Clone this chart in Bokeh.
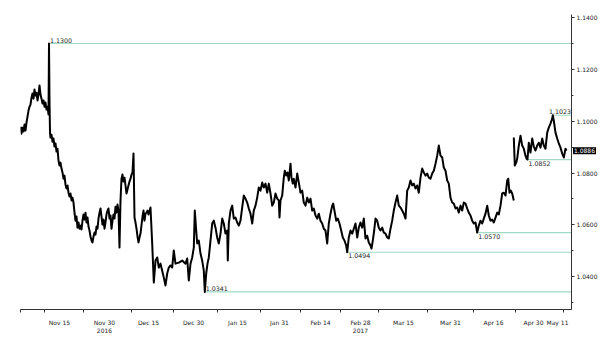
from bokeh.plotting import figure
from bokeh.models import Range1d, LinearAxis, FixedTicker, Label
from bokeh.core.properties import value
from bokeh.embed import file_html
from bokeh.resources import INLINE

# x = bar index (4 bars per trading day, Nov 15 2016 = 0)
bars_a = [-39, -38, -37, -36, -35, -34, -33, -32, -31, -30, -29, -28, -27, -26, -25, -24, -23, -22, -21, -20,
          -19, -18, -17, -16, -15, -14, -13, -12, -11, -10.5, -10, -9.5, -9, -8, -7, -6, -5, -4, -3, -2, -1,
          0, 1, 2, 3, 4, 5, 6, 7, 8, 9, 10, 11, 12, 13, 14, 15, 16, 17, 18, 19, 20, 21, 22, 23, 24, 25, 26,
          27, 28, 29, 30, 31, 32, 33, 34, 35, 36, 37, 38, 39, 40, 41, 42, 43, 44, 45, 46, 47, 48, 49, 50,
          51, 52, 53, 54, 55, 56, 57, 58, 59, 60, 61, 62, 63, 64, 65, 66, 67, 68, 69, 70, 71, 72, 73, 74,
          75, 76, 77, 78, 79, 80, 81, 83, 84, 85, 86, 87, 88, 89, 91, 92.7, 94.3, 96, 97.7, 99.3, 101,
          102.7, 104.3, 106, 107.7, 109.3, 111, 112.7, 114.3, 116, 119.3, 122.7, 126, 127.7, 129.3, 131,
          132.7, 134.3, 135.3, 136.7, 137.7, 139.3, 141, 142.7, 144.3, 145.3, 146.7, 148, 149.3, 151,
          152.7, 154.3, 156, 157.7, 159.3, 161, 162.7, 164.3, 166, 167.7, 168.3, 169.3, 171, 172.7, 174.3,
          176, 177.7, 179.3, 181, 182.7, 184.3, 186, 187.7, 189.3, 191, 192.7, 194.3, 196, 197.7, 199.3,
          201, 202.7, 204.3, 206, 207.7, 209.3, 211, 212.7, 214.3, 216, 217.7, 219.3, 220, 221, 222.7,
          224.3, 225.3, 226.7, 228, 229.3, 231, 232, 233.3, 234.3, 236, 237.7, 239.3, 241, 242.7, 244.3,
          246, 247.7, 249.3, 251, 252.7, 254.3, 256, 257.7, 259.3, 261, 262.7, 264.3, 266, 267.7, 269.3,
          271, 272.7, 273.7, 275.3, 276.7, 278.3, 280, 281.7, 283.3, 285, 286.7, 287.7, 289.3, 291, 292.7,
          294.3, 296, 297.7, 299.3, 301, 302.7, 304.3, 306, 307.7, 309.3, 311, 312, 313.3, 314.7, 316,
          317.7, 319.3, 321, 322.7, 324.3, 326, 327.7, 329.3, 331, 332.7, 334.3, 336, 337.7, 339.3, 341,
          342.7, 344.3, 346, 347.7, 349.3, 351, 352.7, 354.3, 356, 357.7, 359.3, 361, 362.7, 364.3, 366,
          367.7, 369.3, 371, 372.7, 374.3, 376, 377.7, 379.3, 381, 382.7, 384.3, 386, 387.7, 389.3, 391,
          392.7, 394.3, 396, 397.7, 399.3, 401, 402.7, 404.3, 406, 407.7, 409.3, 411, 412.7, 414.3, 416,
          417.7, 419.3, 421, 422.7, 424.3, 426, 427.7, 429.3, 431, 432.7, 434.3, 436, 437.7, 439.3, 441,
          442.7, 444.3, 446, 447.7, 448.7, 450, 451.3, 452.7, 454.3]
close_a = [1.0979, 1.0952, 1.0975, 1.0960, 1.0987, 1.0964, 1.0995, 1.1018, 1.1041, 1.1056, 1.1064, 1.1091,
           1.1107, 1.1087, 1.1122, 1.1099, 1.1110, 1.1080, 1.1103, 1.1138, 1.1103, 1.1087, 1.1068, 1.1080,
           1.1056, 1.1072, 1.1045, 1.1056, 1.1026, 1.1300, 1.1080, 1.0956, 1.0937, 1.0948, 1.0921, 1.0933,
           1.0902, 1.0914, 1.0883, 1.0894, 1.0848, 1.0829, 1.0840, 1.0817, 1.0802, 1.0778, 1.0790, 1.0755,
           1.0740, 1.0752, 1.0724, 1.0709, 1.0721, 1.0694, 1.0705, 1.0686, 1.0647, 1.0616, 1.0632, 1.0589,
           1.0609, 1.0585, 1.0597, 1.0582, 1.0616, 1.0640, 1.0620, 1.0647, 1.0609, 1.0628, 1.0593, 1.0578,
           1.0555, 1.0539, 1.0532, 1.0555, 1.0570, 1.0562, 1.0593, 1.0585, 1.0624, 1.0647, 1.0663, 1.0632,
           1.0601, 1.0620, 1.0585, 1.0609, 1.0640, 1.0655, 1.0663, 1.0624, 1.0636, 1.0585, 1.0616, 1.0640,
           1.0624, 1.0670, 1.0647, 1.0678, 1.0655, 1.0512, 1.0694, 1.0778, 1.0794, 1.0767, 1.0782, 1.0752,
           1.0721, 1.0736, 1.0752, 1.0767, 1.0778, 1.0794, 1.0802, 1.0875, 1.0628, 1.0609, 1.0585, 1.0555,
           1.0532, 1.0551, 1.0566, 1.0632, 1.0655, 1.0616, 1.0643, 1.0647, 1.0655, 1.0640, 1.0667, 1.0528,
           1.0377, 1.0462, 1.0474, 1.0435, 1.0450, 1.0423, 1.0396, 1.0366, 1.0412, 1.0435, 1.0443, 1.0435,
           1.0501, 1.0450, 1.0454, 1.0462, 1.0450, 1.0470, 1.0385, 1.0450, 1.0474, 1.0512, 1.0655, 1.0578,
           1.0528, 1.0539, 1.0489, 1.0462, 1.0423, 1.0341, 1.0412, 1.0450, 1.0474, 1.0539, 1.0605, 1.0616,
           1.0589, 1.0551, 1.0528, 1.0566, 1.0624, 1.0605, 1.0566, 1.0578, 1.0462, 1.0605, 1.0655, 1.0674,
           1.0624, 1.0628, 1.0609, 1.0597, 1.0616, 1.0667, 1.0713, 1.0701, 1.0686, 1.0663, 1.0643, 1.0605,
           1.0655, 1.0674, 1.0705, 1.0744, 1.0732, 1.0763, 1.0744, 1.0759, 1.0724, 1.0759, 1.0721, 1.0674,
           1.0686, 1.0721, 1.0701, 1.0694, 1.0628, 1.0694, 1.0713, 1.0782, 1.0809, 1.0790, 1.0802, 1.0771,
           1.0836, 1.0782, 1.0759, 1.0778, 1.0744, 1.0798, 1.0763, 1.0724, 1.0732, 1.0686, 1.0674, 1.0705,
           1.0686, 1.0701, 1.0655, 1.0663, 1.0636, 1.0624, 1.0643, 1.0616, 1.0605, 1.0585, 1.0578, 1.0528,
           1.0605, 1.0643, 1.0674, 1.0682, 1.0647, 1.0616, 1.0624, 1.0605, 1.0578, 1.0551, 1.0539, 1.0520,
           1.0494, 1.0551, 1.0578, 1.0566, 1.0585, 1.0605, 1.0551, 1.0589, 1.0609, 1.0589, 1.0624, 1.0547,
           1.0558, 1.0532, 1.0520, 1.0508, 1.0539, 1.0578, 1.0624, 1.0616, 1.0589, 1.0578, 1.0589, 1.0570,
           1.0566, 1.0551, 1.0547, 1.0585, 1.0616, 1.0655, 1.0686, 1.0713, 1.0674, 1.0667, 1.0655, 1.0643,
           1.0624, 1.0732, 1.0744, 1.0771, 1.0752, 1.0759, 1.0740, 1.0752, 1.0724, 1.0782, 1.0817, 1.0802,
           1.0790, 1.0798, 1.0782, 1.0778, 1.0798, 1.0809, 1.0836, 1.0867, 1.0906, 1.0867, 1.0860, 1.0821,
           1.0809, 1.0771, 1.0759, 1.0705, 1.0686, 1.0682, 1.0663, 1.0667, 1.0647, 1.0674, 1.0655, 1.0686,
           1.0682, 1.0663, 1.0647, 1.0636, 1.0616, 1.0605, 1.0609, 1.0570, 1.0597, 1.0616, 1.0605, 1.0624,
           1.0643, 1.0674, 1.0636, 1.0616, 1.0620, 1.0609, 1.0628, 1.0647, 1.0640, 1.0674, 1.0721, 1.0724,
           1.0713, 1.0771, 1.0778, 1.0724, 1.0732, 1.0721, 1.0694]

bars_b = [454.3, 455.3, 456.7, 457.7, 459.3, 461, 462.7, 464.3, 466, 467, 468, 469.3, 471, 472.7, 474.3,
          476, 477.7, 479.3, 481, 482.7, 484.3, 486, 487.7, 489.3, 491, 492.7, 493.3, 494.3, 496, 497.7,
          499.3, 501, 502.7, 504.3, 506, 507]
close_b = [1.0937, 1.0829, 1.0840, 1.0856, 1.0906, 1.0944, 1.0906, 1.0894, 1.0867, 1.0856, 1.0852, 1.0917,
           1.0879, 1.0933, 1.0902, 1.0887, 1.0906, 1.0917, 1.0898, 1.0933, 1.0906, 1.0894, 1.0956, 1.0975,
           1.0991, 1.1010, 1.1023, 1.1002, 1.0956, 1.0933, 1.0914, 1.0898, 1.0875, 1.0860, 1.0894, 1.0886]

level_values = [1.1300, 1.1023, 1.0852, 1.0570, 1.0494, 1.0341]
level_starts = [-10.5, 493.3, 468, 417.7, 287.7, 145.3]
level_text = ["1.1300", "1.1023", "1.0852", "1.0570", "1.0494", "1.0341"]
level_above = [True, True, False, False, False, True]

last_price = 1.0886
last_text = "1.0886"

x_tick_pos = [0, 45, 89, 134, 178, 220, 261, 301, 344, 391, 434, 474, 498]
x_tick_text = ["Nov 15", "Nov 30\n2016", "Dec 15", "Dec 30", "Jan 15", "Jan 31", "Feb 14", "Feb 28\n2017",
               "Mar 15", "Mar 31", "Apr 16", "Apr 30", "May 11"]
x_minor_pos = [-39, -15, 24, 72, 114, 158, 201, 241, 281, 319, 368, 414, 456, 504]

y_ticks = [1.04, 1.06, 1.08, 1.10, 1.12, 1.14]
y_minor = [1.03, 1.05, 1.07, 1.09, 1.11, 1.13]

X_START, X_END = -39, 512
FONT = "DejaVu Sans"
INK = "#222222"

p = figure(width=600, height=341, output_backend="svg", toolbar_location=None,
           x_range=Range1d(X_START, X_END), y_range=Range1d(1.0273, 1.1412),
           min_border_left=20, min_border_right=29, min_border_top=14, min_border_bottom=32,
           y_axis_location=None, x_axis_location=None)
p.outline_line_color = None
p.xgrid.visible = False
p.ygrid.visible = False
p.background_fill_color = "white"
p.border_fill_color = "white"

# reference levels
for v, s, t, above in zip(level_values, level_starts, level_text, level_above):
    p.segment(x0=[s], y0=[v], x1=[X_END], y1=[v], line_color="#9fd9c2", line_width=1.2)
    near_end = s > X_END - 25
    p.text(x=[X_END - 0.5 if near_end else s], y=[v], text=[t], text_font=value(FONT),
           text_font_size="6.3px", text_color=INK, x_offset=0 if near_end else 1,
           text_align="right" if near_end else "left",
           y_offset=-1 if above else 1,
           text_baseline="bottom" if above else "top")

p.line(bars_a, close_a, line_color="black", line_width=2, line_join="round")
p.line(bars_b, close_b, line_color="black", line_width=2, line_join="round")

xaxis = LinearAxis(ticker=FixedTicker(ticks=x_tick_pos, minor_ticks=x_minor_pos),
                   major_label_overrides={tp: tt for tp, tt in zip(x_tick_pos, x_tick_text)})
xaxis.major_tick_line_color = None
xaxis.minor_tick_out = 3
xaxis.minor_tick_in = 0
xaxis.minor_tick_line_color = "#333333"
xaxis.axis_line_color = "#333333"
xaxis.major_label_text_font = FONT
xaxis.major_label_text_font_size = "6px"
xaxis.major_label_text_color = INK
xaxis.major_label_standoff = 3
p.add_layout(xaxis, "below")

yaxis = LinearAxis(ticker=FixedTicker(ticks=y_ticks, minor_ticks=y_minor),
                   major_label_overrides={t: "%.4f" % t for t in y_ticks})
yaxis.major_tick_out = 3
yaxis.major_tick_in = 0
yaxis.minor_tick_out = 2
yaxis.minor_tick_in = 0
yaxis.axis_line_color = "#333333"
yaxis.major_tick_line_color = "#333333"
yaxis.minor_tick_line_color = "#333333"
yaxis.major_label_text_font = FONT
yaxis.major_label_text_font_size = "6px"
yaxis.major_label_text_color = INK
yaxis.major_label_standoff = 2
p.add_layout(yaxis, "right")

# last-price tag on the right axis (in a side panel so it is not clipped to the frame)
p.add_layout(Label(x=X_END + 1.5, y=last_price, text=last_text, text_font=FONT,
                   text_font_size="6px", text_color="white", text_baseline="middle",
                   background_fill_color="black", padding=1), "above")

open("out.html", "w").write(file_html(p, INLINE))
